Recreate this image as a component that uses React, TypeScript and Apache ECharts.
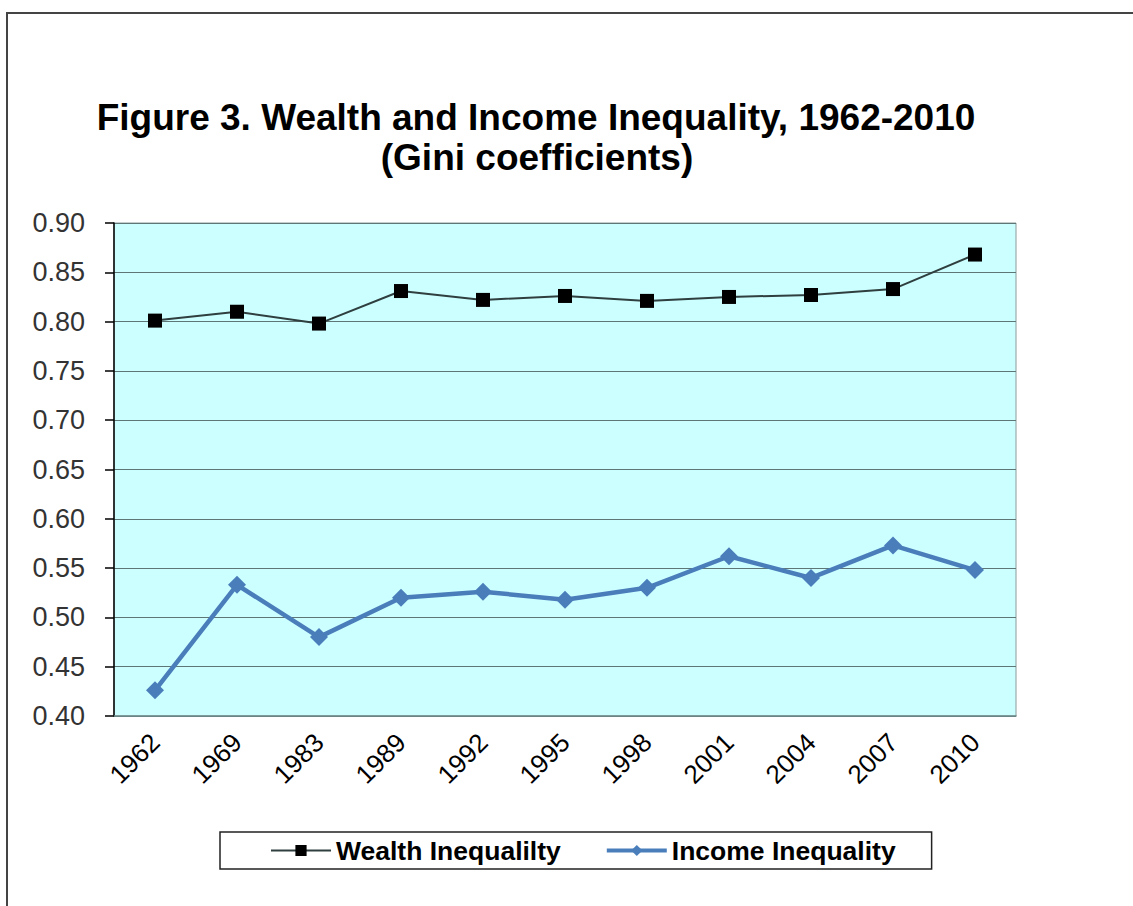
import React, { useEffect, useRef } from "react";
import * as echarts from "echarts";

const years = ["1962", "1969", "1983", "1989", "1992", "1995", "1998", "2001", "2004", "2007", "2010"];
const wealthInequality = [0.801, 0.81, 0.798, 0.831, 0.822, 0.826, 0.821, 0.825, 0.827, 0.833, 0.868];
const incomeInequality = [0.426, 0.533, 0.48, 0.52, 0.526, 0.518, 0.53, 0.562, 0.54, 0.573, 0.548];
const wealthName = "Wealth Inequalilty";
const incomeName = "Income Inequality";
const titleLine1 = "Figure 3. Wealth and Income Inequality, 1962-2010";
const titleLine2 = "(Gini coefficients)";

const FONT = "'Liberation Sans', Arial, sans-serif";

export default function App() {
  const ref = useRef<HTMLDivElement>(null);
  useEffect(() => {
    if (!ref.current) return;
    const chart = echarts.init(ref.current, undefined, { renderer: "svg" });
    chart.setOption({
      animation: false,
      backgroundColor: "#ffffff",
      graphic: [
        {
          type: "rect",
          shape: { x: 7, y: 13, width: 1200, height: 1000 },
          style: { fill: "none", stroke: "#444", lineWidth: 2 },
          silent: true,
        },
        {
          type: "text",
          x: 536,
          y: 117,
          style: {
            text: titleLine1,
            font: `bold 37px ${FONT}`,
            fill: "#000",
            textAlign: "center",
            textVerticalAlign: "middle",
          },
        },
        {
          type: "text",
          x: 537,
          y: 157,
          style: {
            text: titleLine2,
            font: `bold 37px ${FONT}`,
            fill: "#000",
            textAlign: "center",
            textVerticalAlign: "middle",
          },
        },
      ],
      legend: {
        left: 220,
        top: 832,
        padding: [5, 36, 5, 50],
        itemGap: 44,
        itemWidth: 60,
        itemHeight: 14,
        borderColor: "#222",
        borderWidth: 1.5,
        textStyle: { fontFamily: FONT, fontSize: 26.5, fontWeight: "bold", color: "#000" },
        data: [
          { name: wealthName },
          { name: incomeName, lineStyle: { width: 4 }, itemStyle: { color: "#4a7ebb" } },
        ],
      },
      grid: {
        left: 114,
        right: 117,
        top: 223,
        bottom: 190,
        show: true,
        backgroundColor: "#CCFFFF",
        borderColor: "#8a9a9a",
        borderWidth: 1,
      },
      xAxis: {
        type: "category",
        data: years,
        boundaryGap: true,
        axisLine: { lineStyle: { color: "#6f8a8a", width: 1.5 } },
        axisTick: { show: false },
        axisLabel: {
          rotate: 45,
          margin: 22,
          fontFamily: FONT,
          fontSize: 26,
          color: "#000",
          interval: 0,
        },
      },
      yAxis: {
        type: "value",
        min: 0.4,
        max: 0.9,
        interval: 0.05,
        axisLine: { show: true, lineStyle: { color: "#000", width: 1.5 } },
        axisTick: { show: true, length: 9, lineStyle: { color: "#000", width: 1.5 } },
        axisLabel: {
          margin: 29,
          fontFamily: FONT,
          fontSize: 27,
          color: "#333",
          formatter: (v: number) => v.toFixed(2),
        },
        splitLine: { lineStyle: { color: "#5f7676", width: 1.2 } },
      },
      series: [
        {
          name: wealthName,
          type: "line",
          data: wealthInequality,
          symbol: "rect",
          symbolSize: 14,
          lineStyle: { color: "#2f3f3f", width: 2 },
          itemStyle: { color: "#000" },
          z: 3,
        },
        {
          name: incomeName,
          type: "line",
          data: incomeInequality,
          symbol: "diamond",
          symbolSize: 18,
          lineStyle: { color: "#4a7ebb", width: 4.5 },
          itemStyle: { color: "#4a7ebb" },
          z: 2,
        },
      ],
    });
    return () => chart.dispose();
  }, []);
  return (
    <div
      ref={ref}
      style={{ position: "fixed", left: 0, top: 0, width: 1133, height: 906 }}
    />
  );
}
